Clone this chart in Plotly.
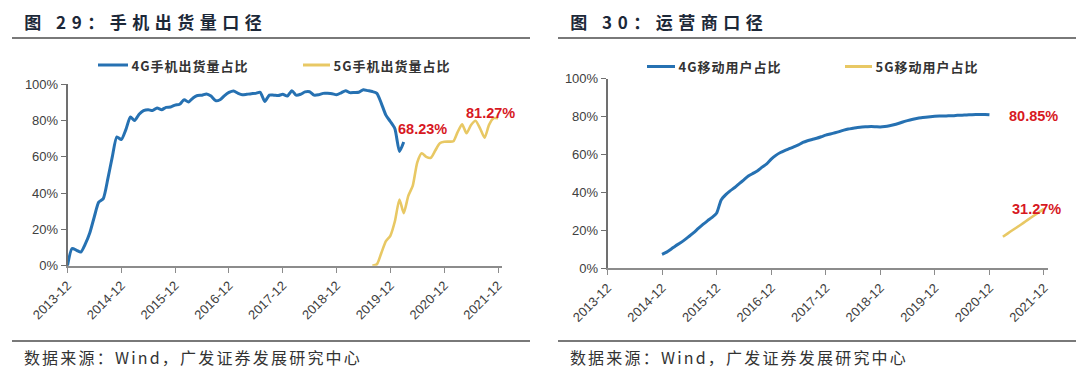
import plotly.graph_objects as go
import pandas as pd

W, H = 1080, 382

# ---------------- data (percent, monthly) ----------------
# 图29 手机出货量口径
left_4g_start = "2013-12"
left_4g = [0, 9.5, 8.5, 7.5, 12, 18, 27, 35, 37, 48, 60, 71, 69.5, 75, 82, 80, 83.5, 85.5, 86, 85.5,
           87, 86, 87.3, 87.5, 88.5, 89, 91.5, 90.2, 92.5, 93.8, 94, 94.7, 93.5, 91, 91.5, 93.8, 95.5, 96.3, 95, 94.2,
           94.5, 94.8, 95, 95.6, 90.5, 94, 94, 93.8, 94.5, 93.5, 96.5, 94, 94.5, 95.8, 95.9, 94, 94.2, 95, 95, 94.8,
           94.2, 95.3, 96.5, 95.4, 95.5, 95.6, 97, 96.5, 96, 95, 89.5, 83, 79.5, 75.5, 63, 68.23]
left_5g_start = "2019-08"
left_5g = [0, 0.8, 7, 13.5, 16.5, 24.5, 36.5, 29, 38.5, 44, 57, 62, 60, 59.5, 63.5, 67.5, 68.3, 68.4, 68.6,
           73.5, 78, 73, 77.6, 79.9, 75.7, 70.5, 77.6, 81.3, 81.27]

# 图30 运营商口径
right_4g_start = "2014-12"
right_4g = [7.3, 8.5, 10.2, 11.8, 13.3, 15, 16.9, 18.8, 21, 23.1, 25, 26.8, 29, 36, 38.8, 40.8, 42.6, 44.6,
            46.6, 48.6, 50, 51.4, 53.3, 55, 57.5, 59.5, 61, 62, 63, 64, 65, 66.3, 67.2, 67.9, 68.5, 69.3,
            70.2, 70.8, 71.4, 72, 72.8, 73.4, 73.8, 74.2, 74.5, 74.6, 74.7, 74.6, 74.5, 74.7, 75.1, 75.6,
            76.3, 77.1, 77.8, 78.4, 78.9, 79.3, 79.6, 79.9, 80.1, 80.2, 80.2, 80.4, 80.4, 80.6, 80.7, 80.8,
            80.9, 81, 81, 81, 80.85]
right_5g_start = "2021-03"
right_5g = [16.6, 18.3, 19.9, 21.5, 23.1, 24.8, 26.5, 28.1, 29.7, 31.27]

x_tick_labels = ["2013-12", "2014-12", "2015-12", "2016-12", "2017-12",
                 "2018-12", "2019-12", "2020-12", "2021-12"]
y_ticks = [0, 20, 40, 60, 80, 100]
y_tick_labels = ["0%", "20%", "40%", "60%", "80%", "100%"]

left_title = "图 29：手机出货量口径"
right_title = "图 30：运营商口径"
left_names = ["4G手机出货量占比", "5G手机出货量占比"]
right_names = ["4G移动用户占比", "5G移动用户占比"]
source = "数据来源：Wind，广发证券发展研究中心"

BLUE = "#2671B2"
YELLOW = "#E8C864"
RED = "#D7191F"
CJK = "Noto Sans CJK SC"
LAT = "Liberation Sans, Arial"


def months(start, n):
    return pd.date_range(start + "-01", periods=n, freq="MS")


def px(x):
    return x / W


def py(y):
    return 1 - y / H


tick_dates = [t + "-01" for t in x_tick_labels]

fig = go.Figure()
line_kw = dict(mode="lines", line_shape="spline", hoverinfo="skip", showlegend=False)
fig.add_trace(go.Scatter(x=months(left_4g_start, len(left_4g)), y=left_4g,
                         line=dict(color=BLUE, width=3, smoothing=0.6), xaxis="x", yaxis="y", **line_kw))
fig.add_trace(go.Scatter(x=months(left_5g_start, len(left_5g)), y=left_5g,
                         line=dict(color=YELLOW, width=2.6, smoothing=0.6), xaxis="x", yaxis="y", **line_kw))
fig.add_trace(go.Scatter(x=months(right_4g_start, len(right_4g)), y=right_4g,
                         line=dict(color=BLUE, width=3, smoothing=0.6), xaxis="x2", yaxis="y2", **line_kw))
fig.add_trace(go.Scatter(x=months(right_5g_start, len(right_5g)), y=right_5g,
                         line=dict(color=YELLOW, width=2.6, smoothing=0.6), xaxis="x2", yaxis="y2", **line_kw))

xcommon = dict(type="date", range=["2013-12-01", "2021-12-28"], tickvals=tick_dates, ticktext=x_tick_labels,
               tickangle=-45, showline=True, linecolor="#8c8c8c", linewidth=2, ticks="outside",
               ticklen=5, tickwidth=1.3, tickcolor="#8c8c8c", showgrid=False, zeroline=False,
               tickfont=dict(family=LAT, size=13, color="#404040"), fixedrange=True, automargin=False)
ycommon = dict(range=[0, 100], tickvals=y_ticks, ticktext=y_tick_labels, showline=True,
               linecolor="#707070", linewidth=1.5, ticks="outside", ticklen=5, tickwidth=1.3,
               tickcolor="#707070", showgrid=False, zeroline=False,
               tickfont=dict(family=LAT, size=13, color="#404040"), fixedrange=True, automargin=False)

fig.update_layout(
    width=W, height=H, margin=dict(l=0, r=0, t=0, b=0, autoexpand=False),
    paper_bgcolor="white", plot_bgcolor="white",
    xaxis=dict(domain=[px(67.5), px(502)], anchor="y", **xcommon),
    yaxis=dict(domain=[py(265.7), py(84.3)], anchor="x", **ycommon),
    xaxis2=dict(domain=[px(607.5), px(1048)], anchor="y2", **xcommon),
    yaxis2=dict(domain=[py(268.3), py(78.5)], anchor="x2", **ycommon),
)

shapes = []
annotations = []
# title / footer rules
for x0, x1 in [(12, 530), (558, 1076)]:
    shapes.append(dict(type="line", xref="paper", yref="paper", x0=px(x0), x1=px(x1), y0=py(38), y1=py(38),
                       line=dict(color="#4d4d4d", width=1.5)))
    shapes.append(dict(type="line", xref="paper", yref="paper", x0=px(x0), x1=px(x1), y0=py(341), y1=py(341),
                       line=dict(color="#4d4d4d", width=1.5)))

for x, txt in [(25, left_title), (571, right_title)]:
    annotations.append(dict(x=px(x), y=py(21), xref="paper", yref="paper", text="<b>" + txt + "</b>",
                            showarrow=False, xanchor="left", yanchor="middle",
                            font=dict(family=CJK, size=17, color="#1c2838")))
for x in [23, 569]:
    annotations.append(dict(x=px(x), y=py(357), xref="paper", yref="paper", text=source,
                            showarrow=False, xanchor="left", yanchor="middle",
                            font=dict(family=CJK, size=16, color="#333333")))

# legends
legend_items = [
    (98, 128, 65, BLUE, left_names[0]), (303, 330, 65, YELLOW, left_names[1]),
    (647, 675, 66.5, BLUE, right_names[0]), (845, 872, 66.5, YELLOW, right_names[1]),
]
for x0, x1, y, col, name in legend_items:
    shapes.append(dict(type="line", xref="paper", yref="paper", x0=px(x0), x1=px(x1), y0=py(y), y1=py(y),
                       line=dict(color=col, width=3)))
    annotations.append(dict(x=px(x1 + 2), y=py(y), xref="paper", yref="paper", text="<b>" + name + "</b>",
                            showarrow=False, xanchor="left", yanchor="middle",
                            font=dict(family=CJK, size=13, color="#333333")))

# value labels
for x, y, v in [(422, 129, left_4g[-1]), (490, 113, left_5g[-1]),
                (1033, 116, right_4g[-1]), (1036, 209, right_5g[-1])]:
    annotations.append(dict(x=px(x), y=py(y), xref="paper", yref="paper", text="<b>%.2f%%</b>" % v,
                            showarrow=False, xanchor="center", yanchor="middle",
                            font=dict(family=LAT, size=14.5, color=RED)))

fig.update_layout(shapes=shapes, annotations=annotations)

post = """
document.documentElement.style.margin='0';
document.body.style.margin='0';
document.body.style.padding='0';
document.querySelectorAll('.annotation-text').forEach(function(t){
  var s = t.textContent;
  var ls = 0;
  if (s.indexOf('图') === 0) { ls = 5.5; }
  else if (s.indexOf('数据来源') === 0) { ls = 2.2; }
  else if (s.indexOf('占比') > 0) { ls = 1; }
  if (ls > 0) {
    t.style.letterSpacing = ls + 'px';
    var shift = ls * (s.length - 1) / 2;
    var els = [t].concat(Array.prototype.slice.call(t.querySelectorAll('tspan[x]')));
    els.forEach(function(e){
      var x = parseFloat(e.getAttribute('x') || '0');
      e.setAttribute('x', x + shift);
    });
  }
});
"""
fig.write_html("out.html", post_script=post, config={"displayModeBar": False})
